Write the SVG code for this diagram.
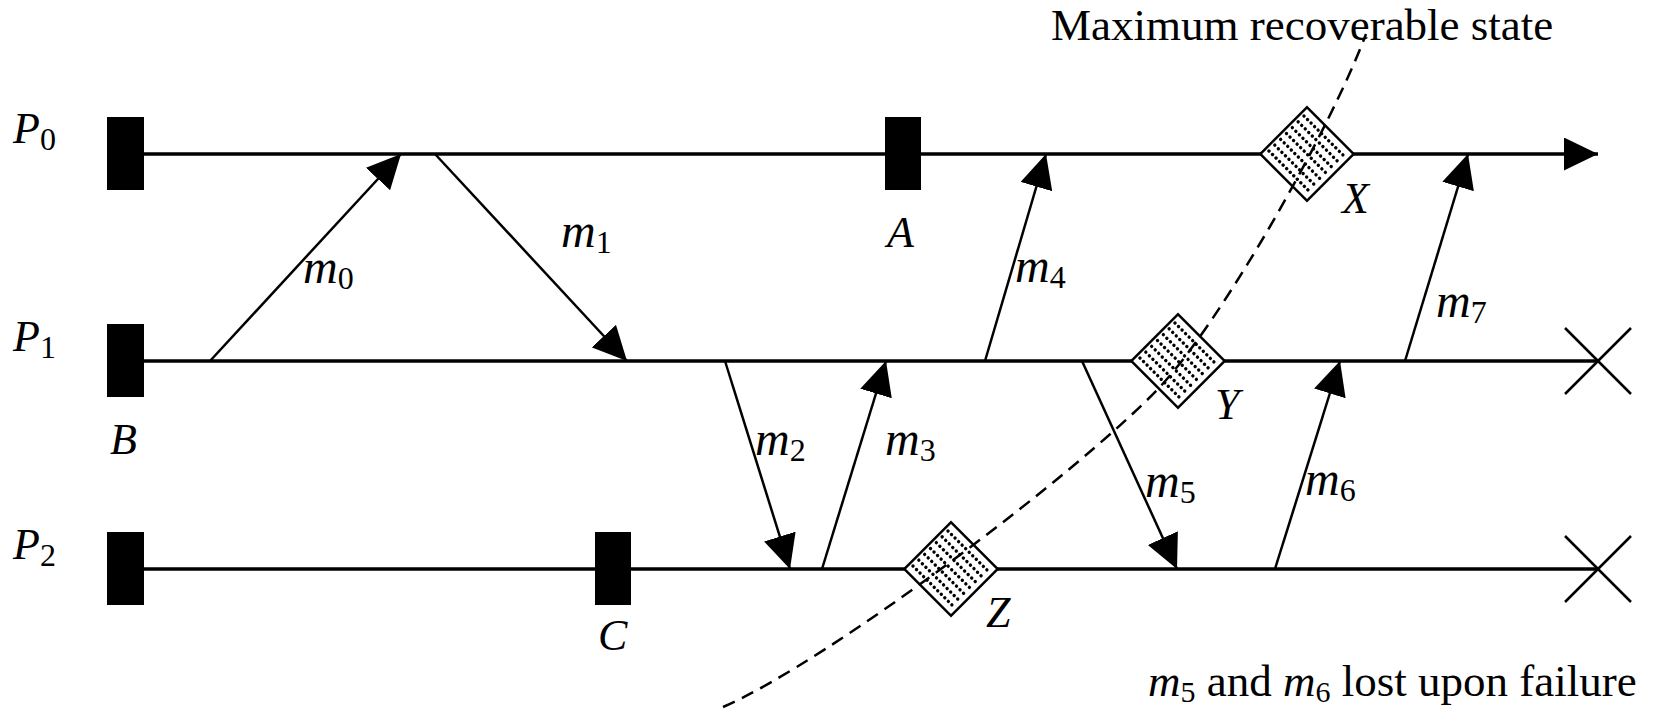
<svg xmlns="http://www.w3.org/2000/svg" width="1659" height="709" viewBox="0 0 1659 709">
<style>
.proc{stroke:#000;stroke-width:3.5;fill:none}
.msg{stroke:#000;stroke-width:2.5;fill:none;marker-end:url(#ah)}
.ckpt{fill:#000}
.lbl{font-family:"Liberation Serif",serif;font-style:italic;font-size:44px;fill:#000}
.ml{font-size:48px}
.sub{font-style:normal;font-size:32px}
.txt{font-family:"Liberation Serif",serif;font-size:45px;fill:#000}
.dia{fill:#fff;stroke:#000;stroke-width:2.5}
.dots{stroke:#000;stroke-width:3.4;stroke-dasharray:0 5;stroke-linecap:round}
.cross{stroke:#000;stroke-width:2.5}
.dash{stroke:#000;stroke-width:2.5;fill:none;stroke-dasharray:13 8}
</style>
<defs>
<marker id="ah" markerUnits="userSpaceOnUse" markerWidth="36" markerHeight="34" refX="34" refY="16.5" orient="auto">
<path d="M0,0 L34,16.5 L0,33 z" fill="#000"/>
</marker>
<g id="hatch">
<rect class="dia" x="-33" y="-33" width="66" height="66"/>
<line class="dots" x1="-29" y1="-24.75" x2="31" y2="-24.75"/>
<line class="dots" x1="-29" y1="-16.5" x2="31" y2="-16.5"/>
<line class="dots" x1="-29" y1="-8.25" x2="31" y2="-8.25"/>
<line class="dots" x1="-29" y1="0" x2="31" y2="0"/>
<line class="dots" x1="-29" y1="8.25" x2="31" y2="8.25"/>
<line class="dots" x1="-29" y1="16.5" x2="31" y2="16.5"/>
<line class="dots" x1="-29" y1="24.75" x2="31" y2="24.75"/>
</g>
</defs>
<rect width="1659" height="709" fill="#fff"/>

<g id="processes">
<g id="P0">
<line class="proc" x1="125" y1="154" x2="1598" y2="154" marker-end="url(#ah)"/>
<text class="lbl" x="13" y="143">P<tspan class="sub" dy="7">0</tspan></text>
</g>
<g id="P1">
<line class="proc" x1="125" y1="361" x2="1598" y2="361"/>
<text class="lbl" x="13" y="351">P<tspan class="sub" dy="7">1</tspan></text>
</g>
<g id="P2">
<line class="proc" x1="125" y1="569" x2="1598" y2="569"/>
<text class="lbl" x="13" y="559">P<tspan class="sub" dy="7">2</tspan></text>
</g>
</g>

<g id="connectors">
<line class="msg" x1="210" y1="361" x2="401" y2="154"/>
<line class="msg" x1="435" y1="154" x2="627" y2="361"/>
<line class="msg" x1="725" y1="361" x2="790" y2="569"/>
<line class="msg" x1="822" y1="569" x2="886" y2="361"/>
<line class="msg" x1="985" y1="361" x2="1046" y2="154"/>
<line class="msg" x1="1082" y1="361" x2="1177" y2="569"/>
<line class="msg" x1="1275" y1="569" x2="1340" y2="361"/>
<line class="msg" x1="1405" y1="361" x2="1468" y2="154"/>
</g>

<g id="msg-labels">
<text class="lbl ml" x="303" y="283">m<tspan class="sub" dy="6">0</tspan></text>
<text class="lbl ml" x="561" y="247">m<tspan class="sub" dy="6">1</tspan></text>
<text class="lbl ml" x="755" y="455">m<tspan class="sub" dy="6">2</tspan></text>
<text class="lbl ml" x="885" y="455">m<tspan class="sub" dy="6">3</tspan></text>
<text class="lbl ml" x="1015" y="282">m<tspan class="sub" dy="6">4</tspan></text>
<text class="lbl ml" x="1145" y="497">m<tspan class="sub" dy="6">5</tspan></text>
<text class="lbl ml" x="1305" y="495">m<tspan class="sub" dy="6">6</tspan></text>
<text class="lbl ml" x="1436" y="317">m<tspan class="sub" dy="6">7</tspan></text>
</g>

<g id="ckpt-B"><rect class="ckpt" x="107" y="324" width="37" height="73"/><text class="lbl" x="110" y="454">B</text></g>
<g id="ckpt-P0start"><rect class="ckpt" x="107" y="117" width="37" height="73"/></g>
<g id="ckpt-P2start"><rect class="ckpt" x="107" y="532" width="37" height="73"/></g>
<g id="ckpt-A"><rect class="ckpt" x="885" y="117" width="36" height="73"/><text class="lbl" x="887" y="247">A</text></g>
<g id="ckpt-C"><rect class="ckpt" x="595" y="532" width="36" height="73"/><text class="lbl" x="598" y="650">C</text></g>

<g id="ckpt-X"><use href="#hatch" transform="translate(1307,154) rotate(45)"/><text class="lbl" x="1342" y="213">X</text></g>
<g id="ckpt-Y"><use href="#hatch" transform="translate(1178,361) rotate(45)"/><text class="lbl" x="1215" y="419">Y</text></g>
<g id="ckpt-Z"><use href="#hatch" transform="translate(951,569) rotate(45)"/><text class="lbl" x="986" y="627">Z</text></g>

<g id="failures">
<line class="cross" x1="1565" y1="328" x2="1631" y2="394"/>
<line class="cross" x1="1565" y1="394" x2="1631" y2="328"/>
<line class="cross" x1="1565" y1="536" x2="1631" y2="602"/>
<line class="cross" x1="1565" y1="602" x2="1631" y2="536"/>
</g>

<g id="recovery-line">
<path class="dash" d="M723,707 C830,660 1075,475 1157,390 C1220,325 1330,130 1366,34"/>
<text class="txt" x="1051" y="40">Maximum recoverable state</text>
</g>

<g id="note">
<text class="txt" x="1148" y="696"><tspan font-style="italic">m</tspan><tspan font-size="30" dy="6">5</tspan><tspan dy="-6"> and </tspan><tspan font-style="italic">m</tspan><tspan font-size="30" dy="6">6</tspan><tspan dy="-6"> lost upon failure</tspan></text>
</g>
</svg>
